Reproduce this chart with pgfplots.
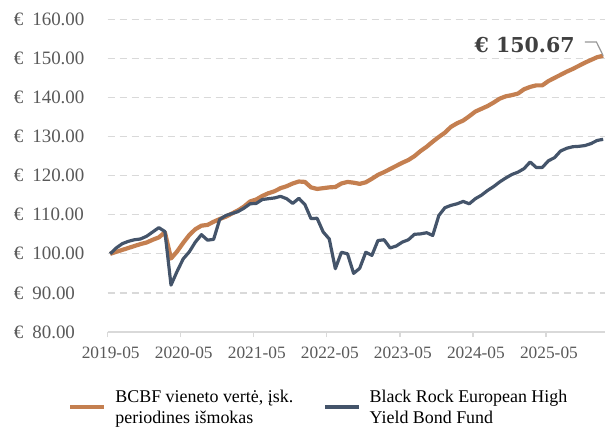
\documentclass[border=0pt]{standalone}
\usepackage{pgfplots}
\usepackage{pgfplotstable}
\pgfplotsset{compat=1.18}
\usepackage{fontspec}
\setmainfont{Liberation Serif}
\newfontfamily\annfont{DejaVu Serif}
\definecolor{bcbf}{RGB}{196,127,80}
\definecolor{brk}{RGB}{68,84,106}
\definecolor{gridc}{RGB}{217,217,217}
\definecolor{ticklab}{RGB}{89,89,89}
\definecolor{anncol}{RGB}{64,64,64}
\definecolor{leadcol}{RGB}{150,150,150}

\pgfplotstableread{
i bcbf brk
0 100.0 100.0
1 100.5 101.5
2 101.0 102.6
3 101.5 103.2
4 102.0 103.6
5 102.5 103.8
6 102.9 104.5
7 103.6 105.6
8 104.2 106.7
9 105.5 105.7
10 98.8 92.0
11 100.6 95.5
12 102.8 98.7
13 104.8 100.5
14 106.3 103.0
15 107.2 104.9
16 107.4 103.5
17 108.2 103.7
18 108.9 108.8
19 109.5 109.8
20 110.3 110.3
21 111.1 110.8
22 112.1 111.7
23 113.4 112.8
24 113.9 112.9
25 114.8 113.9
26 115.5 114.1
27 116.0 114.3
28 116.8 114.7
29 117.3 114.1
30 118.0 112.9
31 118.5 114.2
32 118.4 112.6
33 117.0 109.0
34 116.6 109.1
35 116.8 105.6
36 117.0 103.8
37 117.1 96.2
38 118.0 100.4
39 118.4 100.0
40 118.2 95.0
41 117.9 96.3
42 118.3 100.4
43 119.2 99.6
44 120.2 103.4
45 120.9 103.6
46 121.7 101.5
47 122.5 102.0
48 123.3 103.0
49 124.0 103.6
50 125.0 105.0
51 126.3 105.1
52 127.4 105.4
53 128.7 104.7
54 129.9 109.8
55 131.0 111.8
56 132.5 112.4
57 133.4 112.8
58 134.1 113.4
59 135.2 112.8
60 136.4 114.1
61 137.1 115.0
62 137.8 116.2
63 138.7 117.2
64 139.7 118.4
65 140.3 119.4
66 140.6 120.3
67 141.0 120.9
68 142.1 121.8
69 142.7 123.5
70 143.1 122.1
71 143.1 122.1
72 144.2 123.8
73 145.0 124.6
74 145.8 126.3
75 146.6 127.0
76 147.3 127.4
77 148.1 127.5
78 148.9 127.7
79 149.6 128.2
80 150.3 129.0
81 150.67 129.3
}\datatable

\begin{document}
\begin{tikzpicture}
\begin{axis}[
  scale only axis, width=497.3bp, height=312.7bp,
  xmin=-0.4, xmax=81.3, ymin=80, ymax=160,
  clip=false,
  axis x line*=bottom, axis y line*=left,
  x axis line style={draw=gridc, line width=1.3bp, -},
  y axis line style={draw=none},
  ytick={80,90,...,160},
  ytick style={draw=none},
  xtick={-0.4,11.6,23.6,35.6,47.6,59.6,71.6},
  xticklabels={2019-05,2020-05,2021-05,2022-05,2023-05,2024-05,2025-05},
  xtick style={draw=gridc, line width=1.3bp},
  tick align=outside, major tick length=5bp,
  ymajorgrids,
  grid style={draw=gridc, line width=1.3bp, dash pattern=on 7bp off 5bp},
  /pgf/number format/assume math mode=true,
  yticklabel={€\hspace{9bp}\pgfmathprintnumber[fixed,fixed zerofill,precision=2]{\tick}},
  yticklabel style={anchor=west, inner sep=0pt, xshift=-89bp, font=\fontsize{19}{22}\selectfont, text=ticklab},
  xticklabel style={anchor=north, inner sep=0pt, yshift=-10bp, xshift=3bp, font=\fontsize{17.4}{20}\selectfont, text=ticklab},
  legend style={at={(axis description cs:-0.0798,-0.2207)}, anchor=west, draw=none, fill=none,
    legend columns=2, font=\fontsize{18}{21.5}\selectfont, text=black, inner sep=0pt,
    nodes={inner sep=0pt},
    /tikz/every odd column/.append style={column sep=9bp}},
  legend image code/.code={\draw[#1, line cap=butt] (0bp,-6bp) -- (34bp,-6bp);},
]
\addplot[bcbf, line width=4.2bp, line join=round] table[x=i, y=bcbf] {\datatable};
\addlegendentry{\makebox[208bp][l]{\begin{tabular}{@{}l@{}}BCBF vieneto vertė, įsk.\\periodines išmokas\end{tabular}}}
\addplot[brk, line width=3.2bp, line join=round] table[x=i, y=brk] {\datatable};
\addlegendentry{\begin{tabular}{@{}l@{}}Black Rock European High\\Yield Bond Fund\end{tabular}}
\draw[leadcol, line width=1.2bp] (axis cs:81,150.67) -- ++(-6.7bp,13.7bp) -- ++(-11.7bp,0bp);
\node[anchor=east, inner sep=0pt, text=anncol, font=\annfont\bfseries\fontsize{20.6}{24}\selectfont] at ([xshift=-28.4bp, yshift=10.6bp]axis cs:81,150.67) {€ 150.67};
\end{axis}
\path (current axis.south west) ++(-107.7bp,-96bp) rectangle ++(615bp,428bp);
\end{tikzpicture}
\end{document}
